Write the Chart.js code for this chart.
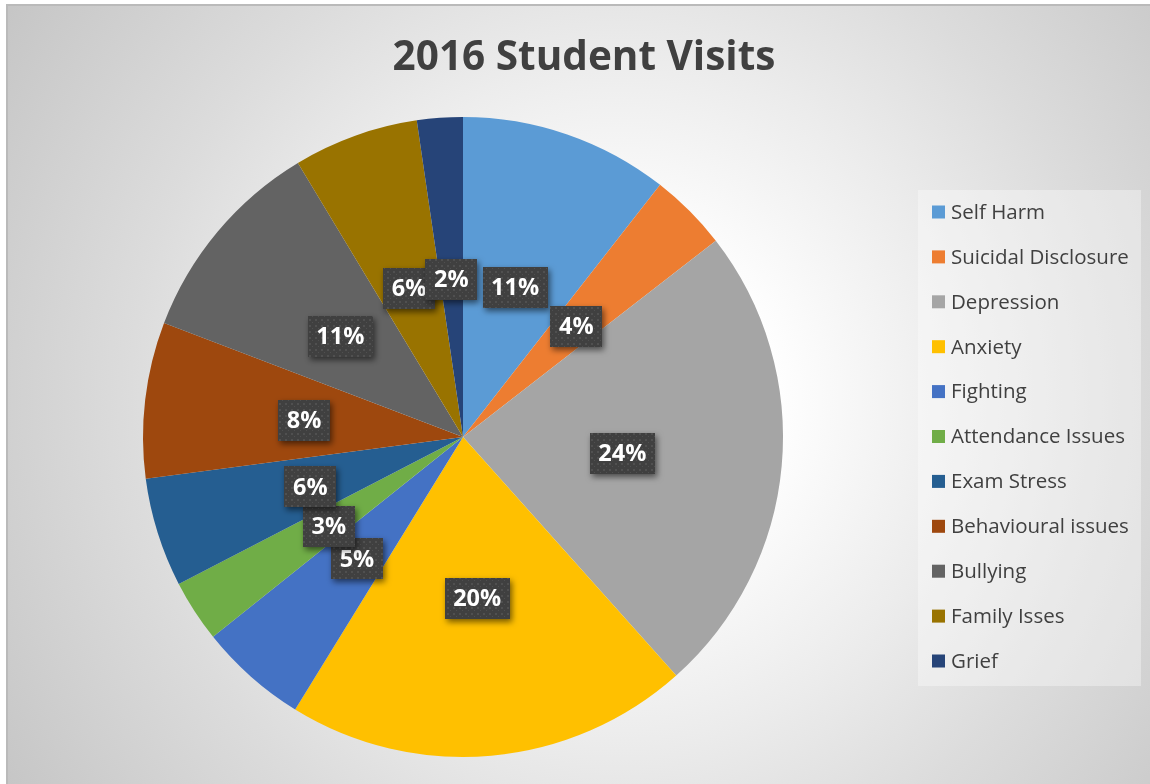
<!DOCTYPE html>
<html>
<head>
<meta charset="utf-8">
<title>2016 Student Visits</title>
<script src="https://cdn.jsdelivr.net/npm/chart.js@4.4.0/dist/chart.umd.min.js"></script>
<style>
    html, body { margin: 0; padding: 0; background: #fff; overflow: hidden; }
    #chart-box {
        position: absolute;
        left: 6px;
        top: 4px;
        width: 1144px;
        height: 780px;
        border-left: 2px solid #bababa;
        border-top: 2px solid #bababa;
        background: radial-gradient(circle at 612px 394px, #ffffff 150px, #ececec 340px, #dcdcdc 490px, #c6c6c6 724px);
    }
    canvas { display: block; }
</style>
</head>
<body>
<div id="chart-box"><canvas id="visits-chart" width="1144" height="780"></canvas></div>
<script>
"use strict";

// Chart data (shares of visits):
var chartTitle = "2016 Student Visits";
var categories = ["Self Harm", "Suicidal Disclosure", "Depression", "Anxiety", "Fighting",
    "Attendance Issues", "Exam Stress", "Behavioural issues", "Bullying", "Family Isses", "Grief"];
var visitShares = [10.56, 3.94, 23.9, 20.4, 5.48, 3.14, 5.51, 7.89, 10.57, 6.32, 2.31];
var sliceColors = ["#5B9BD5", "#ED7D31", "#A5A5A5", "#FFC000", "#4472C4", "#70AD47",
    "#255E91", "#9E480E", "#636363", "#997300", "#264478"];

var textColor = "#404040";

// Dotted dark fill used behind the percentage labels:
var makeLabelPattern = function makeLabelPattern(ctx) {
    var tile = document.createElement('canvas');
    tile.width = 6;
    tile.height = 6;
    var tctx = tile.getContext('2d');
    tctx.fillStyle = '#404040';
    tctx.fillRect(0, 0, 6, 6);
    tctx.fillStyle = '#505050';
    tctx.fillRect(1, 1, 2, 2);
    tctx.fillRect(4, 4, 1, 1);
    return ctx.createPattern(tile, 'repeat');
};

// Title, drawn at the Excel position (not centred over the pie):
var titlePlugin = {
    id: 'excelTitle',
    afterDraw: function (chart) {
        var ctx = chart.ctx;
        ctx.save();
        ctx.font = 'bold 40.5px "Open Sans"';
        ctx.fillStyle = textColor;
        ctx.textAlign = 'center';
        ctx.textBaseline = 'middle';
        ctx.fillText(chartTitle, 576, 52);
        ctx.restore();
    }
};

// Legend on the right with its light panel:
var legendPlugin = {
    id: 'excelLegend',
    afterDraw: function (chart) {
        var ctx = chart.ctx;
        var colors = chart.data.datasets[0].backgroundColor;
        ctx.save();
        ctx.fillStyle = 'rgba(255, 255, 255, 0.35)';
        ctx.fillRect(910, 184, 223, 496);
        ctx.font = '20.5px "Open Sans"';
        ctx.textBaseline = 'middle';
        chart.data.labels.forEach(function (label, i) {
            var y = 206 + i * 44.9;
            ctx.fillStyle = colors[i];
            ctx.fillRect(924, y - 6.5, 13, 13);
            ctx.fillStyle = textColor;
            ctx.fillText(label, 943, y + 1);
        });
        ctx.restore();
    }
};

// Percentage labels in dark boxes at the slice centroids:
var percentLabelPlugin = {
    id: 'percentLabels',
    afterDatasetsDraw: function (chart) {
        var ctx = chart.ctx;
        var values = chart.data.datasets[0].data;
        var total = values.reduce(function (a, b) { return a + b; }, 0);
        var pattern = makeLabelPattern(ctx);
        chart.getDatasetMeta(0).data.forEach(function (arc, i) {
            var pos = arc.tooltipPosition(true);
            var text = Math.round(values[i] / total * 100) + '%';
            ctx.save();
            ctx.font = 'bold 23.5px "Open Sans"';
            var w = Math.round(ctx.measureText(text).width + 17);
            var h = 41;
            ctx.shadowColor = 'rgba(0, 0, 0, 0.55)';
            ctx.shadowBlur = 6;
            ctx.shadowOffsetX = 2;
            ctx.shadowOffsetY = 3;
            ctx.fillStyle = pattern;
            ctx.fillRect(Math.round(pos.x - w / 2), Math.round(pos.y - h / 2 + 2), w, h);
            ctx.restore();
            ctx.save();
            ctx.font = 'bold 23.5px "Open Sans"';
            ctx.fillStyle = '#ffffff';
            ctx.textAlign = 'center';
            ctx.textBaseline = 'middle';
            ctx.fillText(text, pos.x, pos.y + 3);
            ctx.restore();
        });
    }
};

var context = document.getElementById('visits-chart').getContext('2d');

var visitsChart = new Chart(context, {
    type: 'pie',
    data: {
        labels: categories,
        datasets: [{
            data: visitShares,
            backgroundColor: sliceColors,
            borderWidth: 0,
            hoverOffset: 0
        }]
    },
    options: {
        responsive: false,
        animation: false,
        events: [],
        layout: {
            padding: { left: 135, right: 369, top: 111, bottom: 29 }
        },
        plugins: {
            legend: { display: false },
            title: { display: false },
            tooltip: { enabled: false }
        }
    },
    plugins: [percentLabelPlugin, titlePlugin, legendPlugin]
});
</script>
</body>
</html>
